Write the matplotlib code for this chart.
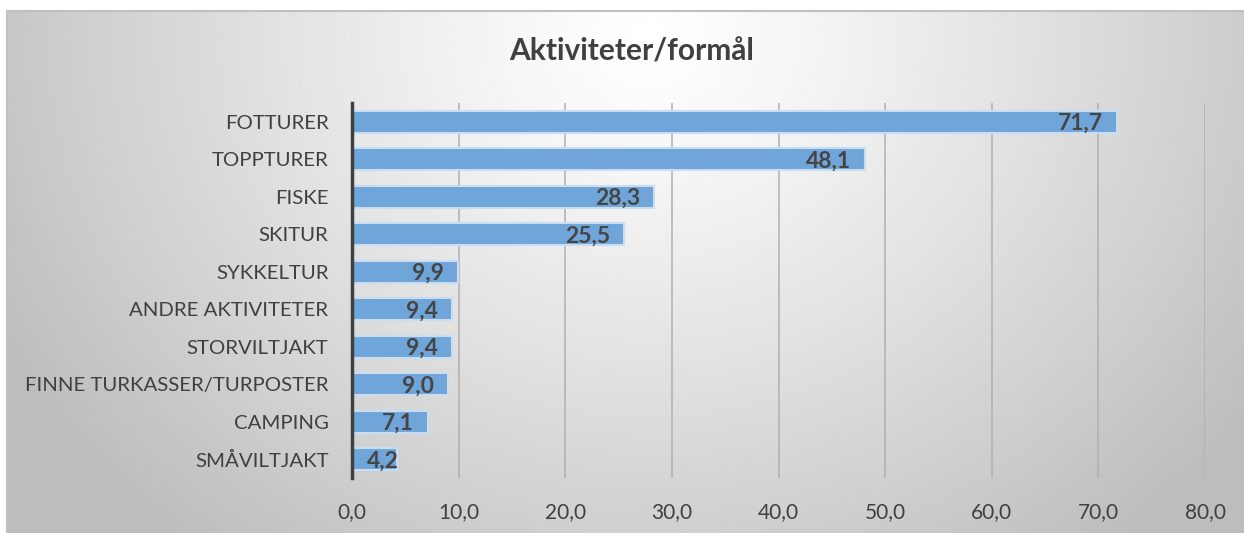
import numpy as np
import matplotlib.pyplot as plt

categories = ['FOTTURER', 'TOPPTURER', 'FISKE', 'SKITUR', 'SYKKELTUR',
              'ANDRE AKTIVITETER', 'STORVILTJAKT', 'FINNE TURKASSER/TURPOSTER',
              'CAMPING', 'SMÅVILTJAKT']
values = [71.7, 48.1, 28.3, 25.5, 9.9, 9.4, 9.4, 9.0, 7.1, 4.2]
xticks = [0, 10, 20, 30, 40, 50, 60, 70, 80]

plt.rcParams['font.family'] = ['Lato', 'DejaVu Sans']

W, H = 1244, 533
fig = plt.figure(figsize=(W / 100, H / 100), dpi=100)

# radial gradient background box
bx0, by1 = 7, 11
bg = fig.add_axes([bx0 / W, 0, 1 - bx0 / W, 1 - by1 / H])
nx, ny = 400, 180
xx, yy = np.meshgrid(np.linspace(0, 1, nx), np.linspace(0, 1, ny))
cx, cy = 0.52, 0.05
r = np.sqrt(((xx - cx) / 0.6) ** 2 + ((yy - cy) / 1.25) ** 2)
shade = np.clip(1.0 - 0.26 * r ** 1.2, 0.74, 1.0)
bg.imshow(shade, cmap='gray', vmin=0, vmax=1, aspect='auto',
          extent=[0, 1, 1, 0], interpolation='bilinear')
bg.set_xlim(0, 1)
bg.set_ylim(1, 0)
bg.set_xticks([])
bg.set_yticks([])
for s in ['right', 'bottom']:
    bg.spines[s].set_visible(False)
for s in ['left', 'top']:
    bg.spines[s].set_color('#c0c0c0')
    bg.spines[s].set_linewidth(1.5)

ax = fig.add_axes([352 / W, 1 - 478 / H, (1205 - 352) / W, (478 - 103) / H])
ax.patch.set_alpha(0)
y = np.arange(len(categories))
ax.barh(y, values, height=0.58, color='#6fa5d8', edgecolor='#c8ddf1',
        linewidth=1.5, zorder=3)
ax.set_ylim(len(categories) - 0.5, -0.5)
ax.set_xlim(0, 80)
ax.set_xticks(xticks)
ax.set_xticklabels([f'{t:.1f}'.replace('.', ',') for t in xticks],
                   fontsize=15, color='#404040')
ax.set_yticks(y)
ax.set_yticklabels(categories, fontsize=14.7, color='#404040')
ax.tick_params(length=0)
ax.tick_params(axis='y', pad=17)
ax.tick_params(axis='x', pad=17)
ax.grid(axis='x', color='#b0b0b0', linewidth=1.1, zorder=1)
for s in ['top', 'right', 'bottom']:
    ax.spines[s].set_visible(False)
ax.spines['left'].set_color('#404040')
ax.spines['left'].set_linewidth(2.5)
ax.spines['left'].set_zorder(4)

# value labels at the inner end, kept clear of the axis line
renderer = fig.canvas.get_renderer()
px_per_unit = (1205 - 352) / 80
for yi, v in zip(y, values):
    t = ax.text(v - 1.3, yi + 0.05, f'{v:.1f}'.replace('.', ','), ha='right',
                va='center', fontsize=16.5, fontweight='bold',
                color='#454545', zorder=5)
    w = t.get_window_extent(renderer).width / px_per_unit
    t.set_x(max(v - 1.3, 1.4 + w))

fig.text(0.508, 1 - 51 / H, 'Aktiviteter/formål', ha='center', va='center',
         fontsize=21.5, fontweight='bold', color='#404040')

fig.savefig('out.png', dpi=100)
